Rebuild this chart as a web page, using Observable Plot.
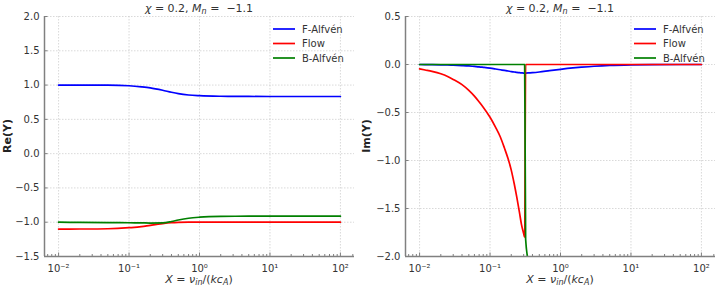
<!DOCTYPE html>
<html><head><meta charset="utf-8">
<script src="https://cdn.jsdelivr.net/npm/d3@7"></script>
<script src="https://cdn.jsdelivr.net/npm/@observablehq/plot@0.6"></script>
<style>
body{margin:0;background:#fff;}
#wrap{position:relative;width:718px;height:289px;font-family:"DejaVu Sans",sans-serif;}
#wrap svg{position:absolute;top:0;overflow:visible;}
</style></head><body><div id="wrap"></div>
<script>
// ---------- data ----------
const seriesNames = ["F-Alfvén", "Flow", "B-Alfvén"];
const seriesColors = ["#0000ff", "#ff0000", "#008000"];
const xTicks = [0.01, 0.1, 1, 10, 100];
const xTickLabels = ["10⁻²", "10⁻¹", "10⁰", "10¹", "10²"];
const xMinor = [0.007, 0.008, 0.009,
  0.02, 0.03, 0.04, 0.05, 0.06, 0.07, 0.08, 0.09,
  0.2, 0.3, 0.4, 0.5, 0.6, 0.7, 0.8, 0.9,
  2, 3, 4, 5, 6, 7, 8, 9,
  20, 30, 40, 50, 60, 70, 80, 90,
  200, 300, 400, 500, 600, 700, 800, 900, 2000, 3000, 4000, 5000, 6000, 7000, 8000, 9000,
  20000, 30000, 40000, 50000, 60000, 70000, 80000, 90000, 150].filter(v => v < 158 && v > 0.0063);

const reYTicks = [-1.5, -1.0, -0.5, 0.0, 0.5, 1.0, 1.5, 2.0];
const reYLabels = ["−1.5", "−1.0", "−0.5", "0.0", "0.5", "1.0", "1.5", "2.0"];
const imYTicks = [-2.0, -1.5, -1.0, -0.5, 0.0, 0.5];
const imYLabels = ["−2.0", "−1.5", "−1.0", "−0.5", "0.0", "0.5"];

// Re(Y) panel
const reX     = [0.01, 0.02, 0.05, 0.1, 0.15, 0.2, 0.3, 0.4, 0.5, 0.7, 1, 2, 5, 10, 100];
const reFast  = [1.0, 1.0, 0.999, 0.99, 0.975, 0.96, 0.925, 0.895, 0.875, 0.855, 0.845, 0.837, 0.834, 0.833, 0.833];
const reFlow  = [-1.1, -1.099, -1.095, -1.08, -1.065, -1.045, -1.02, -1.008, -1.003, -1.0, -1.0, -1.0, -1.0, -1.0, -1.0];
const reBack  = [-1.0, -1.003, -1.006, -1.008, -1.01, -1.012, -1.01, -0.99, -0.968, -0.942, -0.927, -0.915, -0.912, -0.912, -0.912];

// Im(Y) panel
const imX     = [0.01, 0.012, 0.015, 0.02, 0.025, 0.03, 0.04, 0.05, 0.06, 0.07, 0.08, 0.1, 0.12, 0.14, 0.16, 0.18, 0.2, 0.22, 0.24, 0.26, 0.28, 0.3, 0.31, 0.32, 0.35, 0.4, 0.5, 0.7, 1, 1.5, 2, 3, 5, 10, 20, 50, 100];
const imFast  = [0, -0.0005, -0.001, -0.003, -0.005, -0.007, -0.011, -0.015, -0.02, -0.024, -0.029, -0.038, -0.047, -0.055, -0.062, -0.068, -0.074, -0.078, -0.082, -0.085, -0.087, -0.089, -0.089, -0.089, -0.088, -0.085, -0.078, -0.064, -0.05, -0.036, -0.028, -0.018, -0.009, -0.003, -0.001, 0, 0];
const imFlow  = [-0.045, -0.057, -0.072, -0.097, -0.125, -0.155, -0.21, -0.27, -0.33, -0.39, -0.445, -0.55, -0.655, -0.755, -0.87, -0.98, -1.1, -1.24, -1.385, -1.53, -1.67, -1.76, -1.8, 0, 0, 0, 0, 0, 0, 0, 0, 0, 0, 0, 0, 0, 0];
const imBack  = [0, 0, 0, 0, 0, 0, 0, 0, 0, 0, 0, 0, 0, 0, 0, 0, 0, 0, 0, 0, 0, 0, 0, -1.82, -2.05, null, null, null, null, null, null, null, null, null, null, null, null];

// ---------- drawing ----------
function rows(xs, lists) {
  const out = [];
  lists.forEach((vals, s) => xs.forEach((x, i) => {
    if (vals[i] !== null) out.push({x, y: vals[i], series: seriesNames[s]});
  }));
  return out;
}

const xDomain = [Math.pow(10, -2.2), Math.pow(10, 2.2)];
const gridStyle = {stroke: "#c8c8c8", strokeOpacity: 1, strokeDasharray: "1.5,1.5", strokeWidth: 0.7};
const spine = "#808080";

function panel({left, marginLeft, marginRight, yTicks, yLabels, data, yLabel}) {
  const yDomain = [yTicks[0], yTicks[yTicks.length - 1]];
  const svg = Plot.plot({
    width: 359, height: 289,
    marginLeft, marginRight, marginTop: 16, marginBottom: 33,
    style: {fontFamily: "DejaVu Sans", fontSize: "10px", color: "#333", background: "transparent", overflow: "visible"},
    x: {type: "log", domain: xDomain},
    y: {domain: yDomain},
    color: {domain: seriesNames, range: seriesColors},
    marks: [
      Plot.gridX(xTicks, gridStyle),
      Plot.gridY(yTicks, gridStyle),
      Plot.axisX(xTicks, {tickFormat: d => xTickLabels[xTicks.indexOf(d)], tickSize: 0, tickPadding: 8, label: null, fill: "#333"}),
      Plot.axisX(xTicks, {text: null, tickSize: 3.5, dy: -3.5, stroke: spine, label: null}),
      Plot.axisX(xMinor, {text: null, tickSize: 2, dy: -2, stroke: spine, label: null}),
      Plot.axisY(yTicks, {tickFormat: d => yLabels[yTicks.indexOf(d)], tickSize: 0, tickPadding: 5, label: null, fill: "#333"}),
      Plot.axisY(yTicks, {text: null, tickSize: 3.5, dx: 3.5, stroke: spine, label: null}),
      Plot.line(data, {x: "x", y: "y", z: "series", stroke: "series", strokeWidth: 1.7, curve: "monotone-x", clip: true}),
      Plot.ruleX([xDomain[0]], {stroke: spine, strokeWidth: 1.5}),
      Plot.ruleY([yDomain[0]], {stroke: spine, strokeWidth: 1.5})
    ]
  });
  svg.style.left = left + "px";
  const g = d3.select(svg);
  const cx = (marginLeft + 359 - marginRight) / 2;

  // title
  const t = g.append("text").attr("x", cx).attr("y", 11.5).attr("text-anchor", "middle")
    .attr("font-size", 11).attr("fill", "#333").attr("font-family", "DejaVu Sans");
  t.append("tspan").attr("font-style", "italic").text("χ");
  t.append("tspan").text(" = 0.2, ");
  t.append("tspan").attr("font-style", "italic").text("M");
  t.append("tspan").attr("font-style", "italic").attr("font-size", 8).attr("dy", 2).text("n");
  t.append("tspan").attr("dy", -2).text(" =  −1.1");

  // x label
  const xl = g.append("text").attr("x", cx).attr("y", 283).attr("text-anchor", "middle")
    .attr("font-size", 11).attr("fill", "#333").attr("font-family", "DejaVu Sans");
  xl.append("tspan").attr("font-style", "italic").text("X");
  xl.append("tspan").text(" = ");
  xl.append("tspan").attr("font-style", "italic").text("ν");
  xl.append("tspan").attr("font-style", "italic").attr("font-size", 8).attr("dy", 2).text("in");
  xl.append("tspan").attr("dy", -2).text("/(");
  xl.append("tspan").attr("font-style", "italic").text("kc");
  xl.append("tspan").attr("font-style", "italic").attr("font-size", 8).attr("dy", 2).text("A");
  xl.append("tspan").attr("dy", -2).text(")");

  // y label
  g.append("text").attr("transform", `translate(${left === 0 ? 11 : 11},136) rotate(-90)`)
    .attr("text-anchor", "middle").attr("font-size", 11).attr("font-weight", "bold")
    .attr("fill", "#222").attr("font-family", "DejaVu Sans").text(yLabel);

  // legend
  const lx = 359 - marginRight - 81;
  seriesNames.forEach((name, i) => {
    const yy = 29 + i * 14.5;
    g.append("line").attr("x1", lx).attr("x2", lx + 22).attr("y1", yy).attr("y2", yy)
      .attr("stroke", seriesColors[i]).attr("stroke-width", 1.7);
    g.append("text").attr("x", lx + 29).attr("y", yy + 3.5).attr("font-size", 10)
      .attr("text-anchor", "start")
      .attr("fill", "#333").attr("font-family", "DejaVu Sans").text(name);
  });
  return svg;
}

const wrap = document.getElementById("wrap");
wrap.appendChild(panel({left: 0, marginLeft: 44, marginRight: 5, yTicks: reYTicks, yLabels: reYLabels,
  data: rows(reX, [reFast, reFlow, reBack]), yLabel: "Re(Y)"}));
wrap.appendChild(panel({left: 359, marginLeft: 46, marginRight: 3, yTicks: imYTicks, yLabels: imYLabels,
  data: rows(imX, [imFast, imFlow, imBack]), yLabel: "Im(Y)"}));
</script></body></html>
